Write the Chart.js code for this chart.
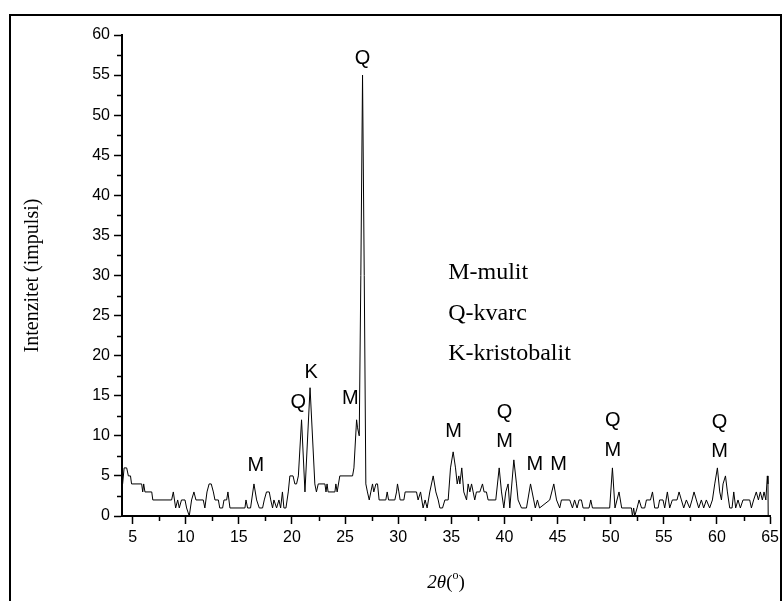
<!DOCTYPE html>
<html>
<head>
<meta charset="utf-8">
<script src="https://cdn.jsdelivr.net/npm/chart.js@4.4.1/dist/chart.umd.min.js"></script>
<style>
  html, body { margin: 0; padding: 0; background: #fff; }
  #wrap { width: 783px; height: 601px; position: relative; }
</style>
</head>
<body>
<div id="wrap"><canvas id="xrd"></canvas></div>
<script>
// diffraction pattern, 2theta in degrees vs counts
const angles = [
  4.06, 4.2, 4.44, 4.6, 4.8, 4.9, 5.85, 5.95, 6.04, 6.16, 6.8, 6.9, 8.67, 8.83, 9.05, 9.24, 9.39, 9.6, 9.93, 10.08,
  10.33, 10.55, 10.77, 10.96, 11.65, 11.8, 12.0, 12.2, 12.4, 12.6, 12.75, 13.07, 13.2, 13.47, 13.6, 13.85, 13.97, 14.16,
  15.57, 15.67, 15.82, 16.1, 16.42, 16.67, 16.92, 17.23, 17.39, 17.6, 17.86, 18.0, 18.17, 18.3, 18.55, 18.77, 18.93,
  19.1, 19.24, 19.43, 19.65, 19.8, 20.1, 20.27, 20.43, 20.6, 20.9, 21.22, 21.7, 22.15, 22.3, 22.47, 22.63, 23.1, 23.2,
  23.3, 23.4, 24.04, 24.13, 24.25, 24.5, 25.7, 25.83, 26.08, 26.17, 26.33, 26.48, 26.64, 26.8, 26.95, 27.1, 27.27,
  27.42, 27.58, 27.7, 27.9, 28.05, 28.2, 28.83, 28.96, 29.09, 29.68, 29.84, 29.93, 30.06, 30.18, 30.53, 30.65, 31.72,
  31.87, 32.1, 32.34, 32.53, 32.72, 32.97, 33.29, 33.54, 33.76, 33.92, 34.17, 34.39, 34.7, 34.92, 35.17, 35.39, 35.55,
  35.7, 35.8, 35.98, 36.17, 36.43, 36.58, 36.74, 36.9, 37.05, 37.2, 37.36, 37.68, 37.93, 38.08, 38.3, 38.46, 39.18,
  39.5, 39.72, 39.94, 40.12, 40.34, 40.5, 40.88, 41.13, 41.28, 41.6, 42.07, 42.45, 42.75, 42.9, 43.1, 43.3, 44.26,
  44.64, 44.9, 45.2, 45.36, 46.14, 46.4, 46.6, 46.83, 47.02, 47.24, 47.4, 47.96, 48.12, 48.28, 49.9, 50.16, 50.4,
  50.78, 51.03, 51.95, 52.04, 52.16, 52.26, 52.48, 52.67, 52.9, 53.2, 53.36, 53.74, 53.93, 54.14, 54.46, 54.6, 54.92,
  55.08, 55.33, 55.55, 55.8, 56.24, 56.43, 56.65, 56.87, 57.12, 57.43, 57.65, 57.84, 58.06, 58.28, 58.53, 58.75, 59.0,
  59.31, 59.57, 59.79, 60.04, 60.26, 60.42, 60.57, 60.8, 60.98, 61.2, 61.42, 61.58, 61.76, 61.98, 62.2, 62.45, 63.08,
  63.24, 63.45, 63.7, 63.9, 64.08, 64.27, 64.43, 64.6, 64.74, 64.8, 64.82
];
const counts = [
  4, 6, 6, 5, 5, 4, 4, 3, 4, 3, 3, 2, 2, 3, 1, 2, 1, 2, 2, 1,
  0, 2, 3, 2, 2, 1, 3, 4, 4, 3, 2, 2, 1, 1, 2, 2, 3, 1,
  1, 2, 1, 1, 4, 2, 1, 1, 2, 3, 3, 2, 1, 2, 1, 2, 1,
  3, 1, 1, 3, 5, 5, 4, 4, 5, 12, 3, 16, 4, 3, 4, 4, 4, 3,
  4, 3, 3, 4, 3, 5, 5, 6, 12, 11, 10, 30, 55, 30, 4, 3, 2,
  3, 4, 3, 4, 4, 2, 2, 3, 2, 2, 3, 4, 3, 2, 2, 3, 3,
  2, 3, 1, 2, 1, 3, 5, 3, 2, 1, 1, 2, 2, 6, 8, 6, 4,
  5, 4, 6, 3, 2, 4, 3, 4, 3, 2, 3, 3, 4, 3, 3, 2, 2,
  6, 3, 1, 3, 4, 1, 7, 4, 2, 1, 1, 4, 2, 1, 2, 1, 2,
  4, 2, 1, 2, 2, 1, 2, 1, 2, 2, 1, 1, 2, 1, 1, 6, 1,
  3, 1, 1, 0, 1, 0, 1, 2, 1, 1, 2, 2, 3, 1, 1, 2, 2,
  1, 3, 1, 2, 2, 3, 2, 1, 2, 1, 2, 3, 2, 1, 2, 1, 2,
  1, 2, 4, 6, 3, 2, 4, 5, 3, 1, 1, 3, 1, 2, 1, 2, 2,
  1, 2, 3, 2, 3, 2, 3, 2, 5, 4, 0
];

// phase marks over the peaks
const tagText  = ['M', 'Q', 'K', 'M', 'Q', 'M', 'Q', 'M', 'M', 'M', 'Q', 'M', 'Q', 'M'];
const tagAngle = [16.6, 20.6, 21.8, 25.5, 26.65, 35.2, 40.0, 40.0, 42.85, 45.1, 50.2, 50.2, 60.25, 60.25];
const tagLevel = [6.3, 14.1, 17.9, 14.7, 57.1, 10.5, 12.9, 9.3, 6.4, 6.4, 11.9, 8.2, 11.7, 8.0];

const legendLines = ['M-mulit', 'Q-kvarc', 'K-kristobalit'];

const xTicks = [5, 10, 15, 20, 25, 30, 35, 40, 45, 50, 55, 60, 65];
const yTicks = [0, 5, 10, 15, 20, 25, 30, 35, 40, 45, 50, 55, 60];

const sans = "'Liberation Sans', Arial, sans-serif";
const serif = "'Liberation Serif', 'Times New Roman', serif";

const frame = {
  id: 'frame',
  beforeDraw(chart) {
    const c = chart.ctx;
    c.save();
    c.strokeStyle = '#000';
    c.lineWidth = 2;
    c.beginPath();
    c.moveTo(10, 620); c.lineTo(10, 15); c.lineTo(781, 15); c.lineTo(781, 620);
    c.stroke();
    c.restore();
  }
};

// minor ticks, peak tags, phase key and x title
const extras = {
  id: 'extras',
  afterDraw(chart) {
    const c = chart.ctx;
    const xs = chart.scales.x, ys = chart.scales.y;
    c.save();
    c.strokeStyle = '#000';
    c.lineWidth = 1.5;
    c.beginPath();
    for (let v = 7.5; v < 65; v += 5) {
      const px = Math.round(xs.getPixelForValue(v)) + 0.5;
      c.moveTo(px, ys.bottom); c.lineTo(px, ys.bottom + 5);
    }
    for (let v = 2.5; v < 60; v += 5) {
      const py = Math.round(ys.getPixelForValue(v)) + 0.5;
      c.moveTo(xs.left, py); c.lineTo(xs.left - 5, py);
    }
    c.stroke();

    c.fillStyle = '#000';
    c.font = '20px ' + sans;
    c.textAlign = 'center';
    c.textBaseline = 'middle';
    tagText.forEach((t, i) => {
      c.fillText(t, xs.getPixelForValue(tagAngle[i]), ys.getPixelForValue(tagLevel[i]));
    });

    c.font = '24px ' + serif;
    c.textAlign = 'left';
    const kx = xs.getPixelForValue(34.7);
    legendLines.forEach((t, i) => {
      c.fillText(t, kx, ys.getPixelForValue(30.3 - i * 5.05));
    });

    // 2θ(°) with italic symbol and raised o
    const cx = (xs.left + xs.right) / 2, cy = 583;
    c.textAlign = 'left';
    const a = '2\u03b8';
    c.font = 'italic 19px ' + serif;
    const wa = c.measureText(a).width;
    c.font = '19px ' + serif;
    const wp = c.measureText('(').width;
    c.font = '12px ' + serif;
    const wo = c.measureText('o').width;
    let x0 = cx - (wa + wp * 2 + wo) / 2;
    c.font = 'italic 19px ' + serif;
    c.fillText(a, x0, cy); x0 += wa;
    c.font = '19px ' + serif;
    c.fillText('(', x0, cy); x0 += wp;
    c.font = '12px ' + serif;
    c.fillText('o', x0, cy - 7); x0 += wo;
    c.font = '19px ' + serif;
    c.fillText(')', x0, cy);
    c.restore();
  }
};

new Chart(document.getElementById('xrd'), {
  type: 'line',
  data: {
    datasets: [{
      data: angles.map((a, i) => ({ x: a, y: counts[i] })),
      borderColor: '#000',
      borderWidth: 1,
      pointRadius: 0,
      tension: 0,
      fill: false
    }]
  },
  options: {
    responsive: true,
    maintainAspectRatio: false,
    animation: false,
    layout: { padding: { left: 0, top: 35, right: 12, bottom: 0 } },
    plugins: { legend: { display: false }, tooltip: { enabled: false } },
    scales: {
      x: {
        type: 'linear', min: 4, max: 65,
        afterBuildTicks: s => { s.ticks = xTicks.map(v => ({ value: v })); },
        afterFit: s => { s.height = 85; },
        border: { color: '#000', width: 2 },
        grid: { drawOnChartArea: false, tickLength: 8, tickWidth: 1.5, tickColor: '#000' },
        ticks: { color: '#000', font: { family: sans, size: 16 }, padding: 4, maxRotation: 0 }
      },
      y: {
        min: 0, max: 60,
        afterBuildTicks: s => { s.ticks = yTicks.map(v => ({ value: v })); },
        afterFit: s => { s.width = 122; },
        border: { color: '#000', width: 2 },
        grid: { drawOnChartArea: false, tickLength: 8, tickWidth: 1.5, tickColor: '#000' },
        ticks: { color: '#000', font: { family: sans, size: 16 }, padding: 4 },
        title: { display: true, text: 'Intenzitet (impulsi)', color: '#000',
                 font: { family: serif, size: 20, weight: 'normal' }, padding: { top: 21, bottom: 0 } }
      }
    }
  },
  plugins: [frame, extras]
});
</script>
</body>
</html>
